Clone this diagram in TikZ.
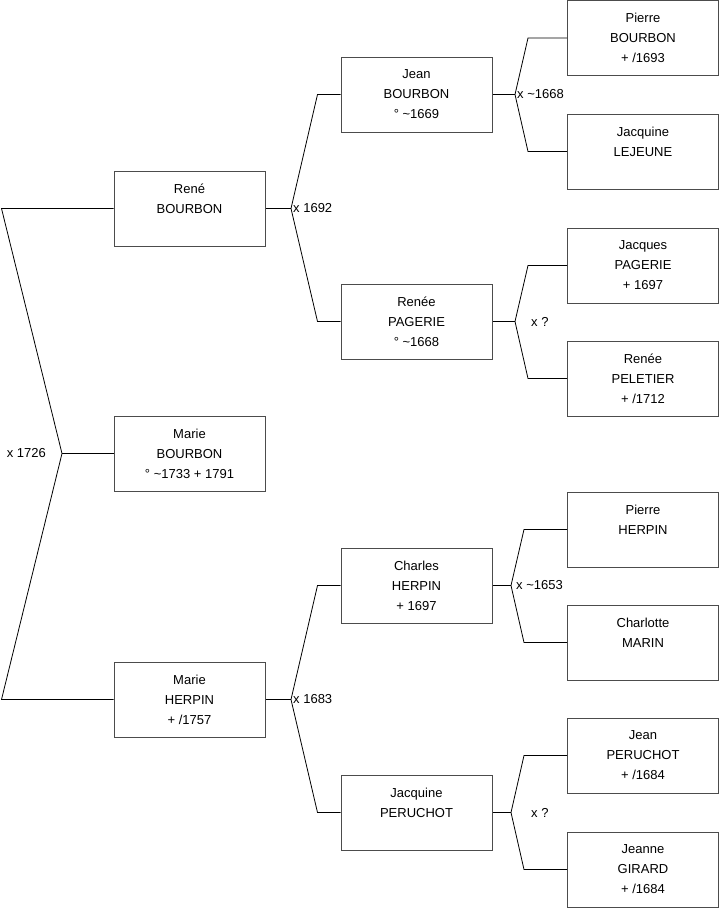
\documentclass[tikz,border=0pt]{standalone}
\usepackage{fontspec}
\setmainfont{Liberation Sans}
\usetikzlibrary{calc}

\begin{document}
\begin{tikzpicture}[x=1pt, y=-1pt,
    person/.style={draw=black!70, line width=1pt, minimum width=151pt, minimum height=75pt,
      inner sep=0pt, align=center, font=\fontsize{13}{20}\selectfont},
    link/.style={draw=black, line width=0.8pt},
    wed/.style={inner sep=0pt, font=\fontsize{13}{15}\selectfont}]
            \useasboundingbox (0,0) rectangle (719,908);
            % generation 1
            \node[person] (marieb) at (189.5,453.5) {Marie\\BOURBON\\\textdegree{} \textasciitilde1733 + 1791};
            % generation 2
            \node[person] (rene) at (189.5,208.5) {René\\BOURBON\\\phantom{x}};
            \node[person] (marieh) at (189.5,699.5) {Marie\\HERPIN\\+ /1757};
            % generation 3
            \node[person] (jean) at (416.5,94.5) {Jean\\BOURBON\\\textdegree{} \textasciitilde1669};
            \node[person] (renee) at (416.5,321.5) {Renée\\PAGERIE\\\textdegree{} \textasciitilde1668};
            \node[person] (charles) at (416.5,585.5) {Charles\\HERPIN\\+ 1697};
            \node[person] (jacquinep) at (416.5,812.5) {Jacquine\\PERUCHOT\\\phantom{x}};
            % generation 4
            \node[person] (pierreb) at (643,38) {Pierre\\BOURBON\\+ /1693};
            \node[person] (jacquinel) at (643,151.5) {Jacquine\\LEJEUNE\\\phantom{x}};
            \node[person] (jacques) at (643,265.5) {Jacques\\PAGERIE\\+ 1697};
            \node[person] (reneep) at (643,378.5) {Renée\\PELETIER\\+ /1712};
            \node[person] (pierreh) at (643,529.5) {Pierre\\HERPIN\\\phantom{x}};
            \node[person] (charlotte) at (643,642.5) {Charlotte\\MARIN\\\phantom{x}};
            \node[person] (jeanp) at (643,755.5) {Jean\\PERUCHOT\\+ /1684};
            \node[person] (jeanne) at (643,869.5) {Jeanne\\GIRARD\\+ /1684};
            % marriage points
            \coordinate (M0) at (62,453.5);
            \coordinate (M1) at (291,208.5);
            \coordinate (M2) at (291,699.5);
            \coordinate (M3) at (515,94.5);
            \coordinate (M4) at (515,321.5);
            \coordinate (M5) at (511,585.5);
            \coordinate (M6) at (511,812.5);
            % links
            \draw[link] (rene.west) -- ++(-112,0) -- (M0) -- ($(marieh.west)+(-112,0)$) -- (marieh.west);
            \draw[link] (M0) -- (marieb.west);
            \draw[link] (jean.west) -- ++(-23,0) -- (M1) -- ($(renee.west)+(-23,0)$) -- (renee.west);
            \draw[link] (M1) -- (rene.east);
            \draw[link] (charles.west) -- ++(-23,0) -- (M2) -- ($(jacquinep.west)+(-23,0)$) -- (jacquinep.west);
            \draw[link] (M2) -- (marieh.east);
            \draw[link] (pierreb.west) -- ++(-39,0) -- (M3) -- ($(jacquinel.west)+(-39,0)$) -- (jacquinel.west);
            \draw[link] (M3) -- (jean.east);
            \draw[link] (jacques.west) -- ++(-39,0) -- (M4) -- ($(reneep.west)+(-39,0)$) -- (reneep.west);
            \draw[link] (M4) -- (renee.east);
            \draw[link] (pierreh.west) -- ++(-43,0) -- (M5) -- ($(charlotte.west)+(-43,0)$) -- (charlotte.west);
            \draw[link] (M5) -- (charles.east);
            \draw[link] (jeanp.west) -- ++(-43,0) -- (M6) -- ($(jeanne.west)+(-43,0)$) -- (jeanne.west);
            \draw[link] (M6) -- (jacquinep.east);
            % marriage labels
            \node[wed, anchor=east] (w0) at ($(M0)+(-16,0)$) {x 1726};
            \node[wed, anchor=west] (w1) at ($(M1)+(2,0)$) {x 1692};
            \node[wed, anchor=west] (w2) at ($(M2)+(2,0)$) {x 1683};
            \node[wed, anchor=west] (w3) at ($(M3)+(2,0)$) {x \textasciitilde1668};
            \node[wed, anchor=west] (w4) at ($(M4)+(16,0)$) {x ?};
            \node[wed, anchor=west] (w5) at ($(M5)+(5,0)$) {x \textasciitilde1653};
            \node[wed, anchor=west] (w6) at ($(M6)+(20,0)$) {x ?};
        \end{tikzpicture}
\end{document}
